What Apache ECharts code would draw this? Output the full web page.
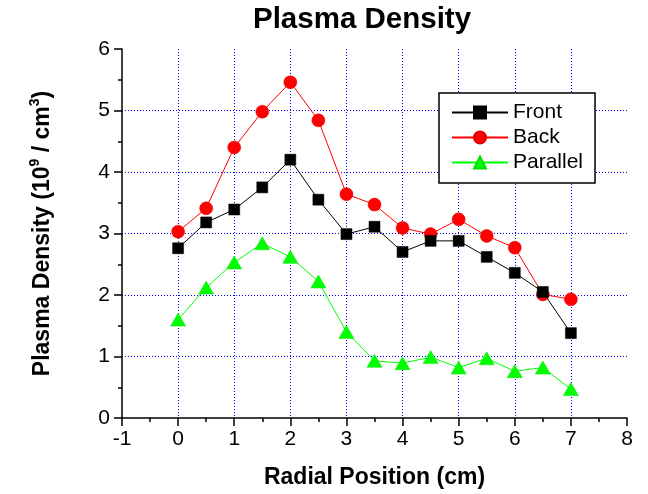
<!DOCTYPE html>
<html>
<head>
<meta charset="utf-8">
<script src="https://cdn.jsdelivr.net/npm/echarts@6/dist/echarts.min.js"></script>
<style>
  html, body { margin: 0; padding: 0; background: #ffffff; }
  #chart { width: 648px; height: 494px; }
</style>
</head>
<body>
<div id="chart"></div>
<script>
// Radial positions (cm) and measured plasma densities (10^9 / cm^3)
const radialPosition = [0, 0.5, 1, 1.5, 2, 2.5, 3, 3.5, 4, 4.5, 5, 5.5, 6, 6.5, 7];
const frontDensity    = [2.76, 3.18, 3.39, 3.75, 4.20, 3.55, 2.99, 3.11, 2.70, 2.88, 2.88, 2.62, 2.36, 2.05, 1.38];
const backDensity     = [3.03, 3.41, 4.40, 4.98, 5.46, 4.84, 3.64, 3.47, 3.09, 2.99, 3.23, 2.96, 2.77, 2.01, 1.93];
const parallelDensity = [1.60, 2.12, 2.53, 2.84, 2.62, 2.22, 1.40, 0.93, 0.89, 0.99, 0.82, 0.97, 0.76, 0.82, 0.47];

const seriesNames = ['Front', 'Back', 'Parallel'];
const xTicks = { min: -1, max: 8, interval: 1 };
const yTicks = { min: 0, max: 6, interval: 1 };

const FONT = '"Liberation Sans", Arial, sans-serif';

function pairs(values) {
  return radialPosition.map((x, i) => [x, values[i]]);
}

const gridLine = {
  show: true,
  showMinLine: false,
  showMaxLine: false,
  lineStyle: { color: '#0000ff', width: 1, type: [1, 2] }
};

const axisCommon = {
  type: 'value',
  axisLine: { show: true, onZero: false, lineStyle: { color: '#000', width: 1.5 } },
  axisTick: { show: true, inside: false, length: 8, lineStyle: { color: '#000', width: 1.5 } },
  minorTick: { show: true, splitNumber: 2, length: 4, lineStyle: { color: '#000', width: 1.5 } },
  splitLine: gridLine,
  nameTextStyle: { fontFamily: FONT, fontWeight: 'bold', fontSize: 23, color: '#000' }
};

const chart = echarts.init(document.getElementById('chart'), null, { renderer: 'canvas' });

chart.setOption({
  animation: false,
  backgroundColor: '#ffffff',
  title: {
    text: 'Plasma Density',
    left: 253,
    top: 5,
    padding: 0,
    textStyle: { fontFamily: FONT, fontWeight: 'bold', fontSize: 29.5, color: '#000' }
  },
  grid: { left: 122, right: 21, top: 49, bottom: 73, containLabel: false },
  xAxis: Object.assign({}, axisCommon, {
    min: xTicks.min, max: xTicks.max, interval: xTicks.interval,
    name: 'Radial Position (cm)',
    nameLocation: 'middle',
    nameGap: 48,
    axisLabel: { fontFamily: FONT, fontSize: 21, color: '#000', margin: 11 }
  }),
  yAxis: Object.assign({}, axisCommon, {
    min: yTicks.min, max: yTicks.max, interval: yTicks.interval,
    name: '{m|Plasma Density (10}{s|9}{m| / cm}{s|3}{m|)}',
    nameLocation: 'middle',
    nameGap: 68,
    nameTextStyle: {
      fontFamily: FONT, fontWeight: 'bold', fontSize: 23, color: '#000',
      rich: {
        m: { fontFamily: FONT, fontWeight: 'bold', fontSize: 23, color: '#000', lineHeight: 26, verticalAlign: 'bottom' },
        s: { fontFamily: FONT, fontWeight: 'bold', fontSize: 14, color: '#000', lineHeight: 26, verticalAlign: 'top' }
      }
    },
    axisLabel: { fontFamily: FONT, fontSize: 21, color: '#000', margin: 12 }
  }),
  legend: {
    orient: 'vertical',
    left: 439,
    top: 93,
    padding: [9, 12, 10, 12],
    itemWidth: 56,
    itemHeight: 15,
    itemGap: 4,
    borderColor: '#000',
    borderWidth: 1.5,
    backgroundColor: '#fff',
    textStyle: { fontFamily: FONT, fontSize: 21, color: '#000' },
    data: seriesNames
  },
  series: [
    {
      name: seriesNames[0], type: 'line', data: pairs(frontDensity),
      symbol: 'rect', symbolSize: 11, z: 4,
      lineStyle: { color: '#000', width: 1 },
      itemStyle: { color: '#000', borderColor: '#000', borderWidth: 0.5 }
    },
    {
      name: seriesNames[1], type: 'line', data: pairs(backDensity),
      symbol: 'circle', symbolSize: 13, z: 3,
      lineStyle: { color: '#ff0000', width: 1 },
      itemStyle: { color: '#ff0000', borderColor: '#e00000', borderWidth: 0.5 }
    },
    {
      name: seriesNames[2], type: 'line', data: pairs(parallelDensity),
      symbol: 'triangle', symbolSize: [15, 13], z: 2,
      lineStyle: { color: '#00ff00', width: 1 },
      itemStyle: { color: '#00ff00', borderColor: '#00e000', borderWidth: 0.5 }
    }
  ]
});
</script>
</body>
</html>
